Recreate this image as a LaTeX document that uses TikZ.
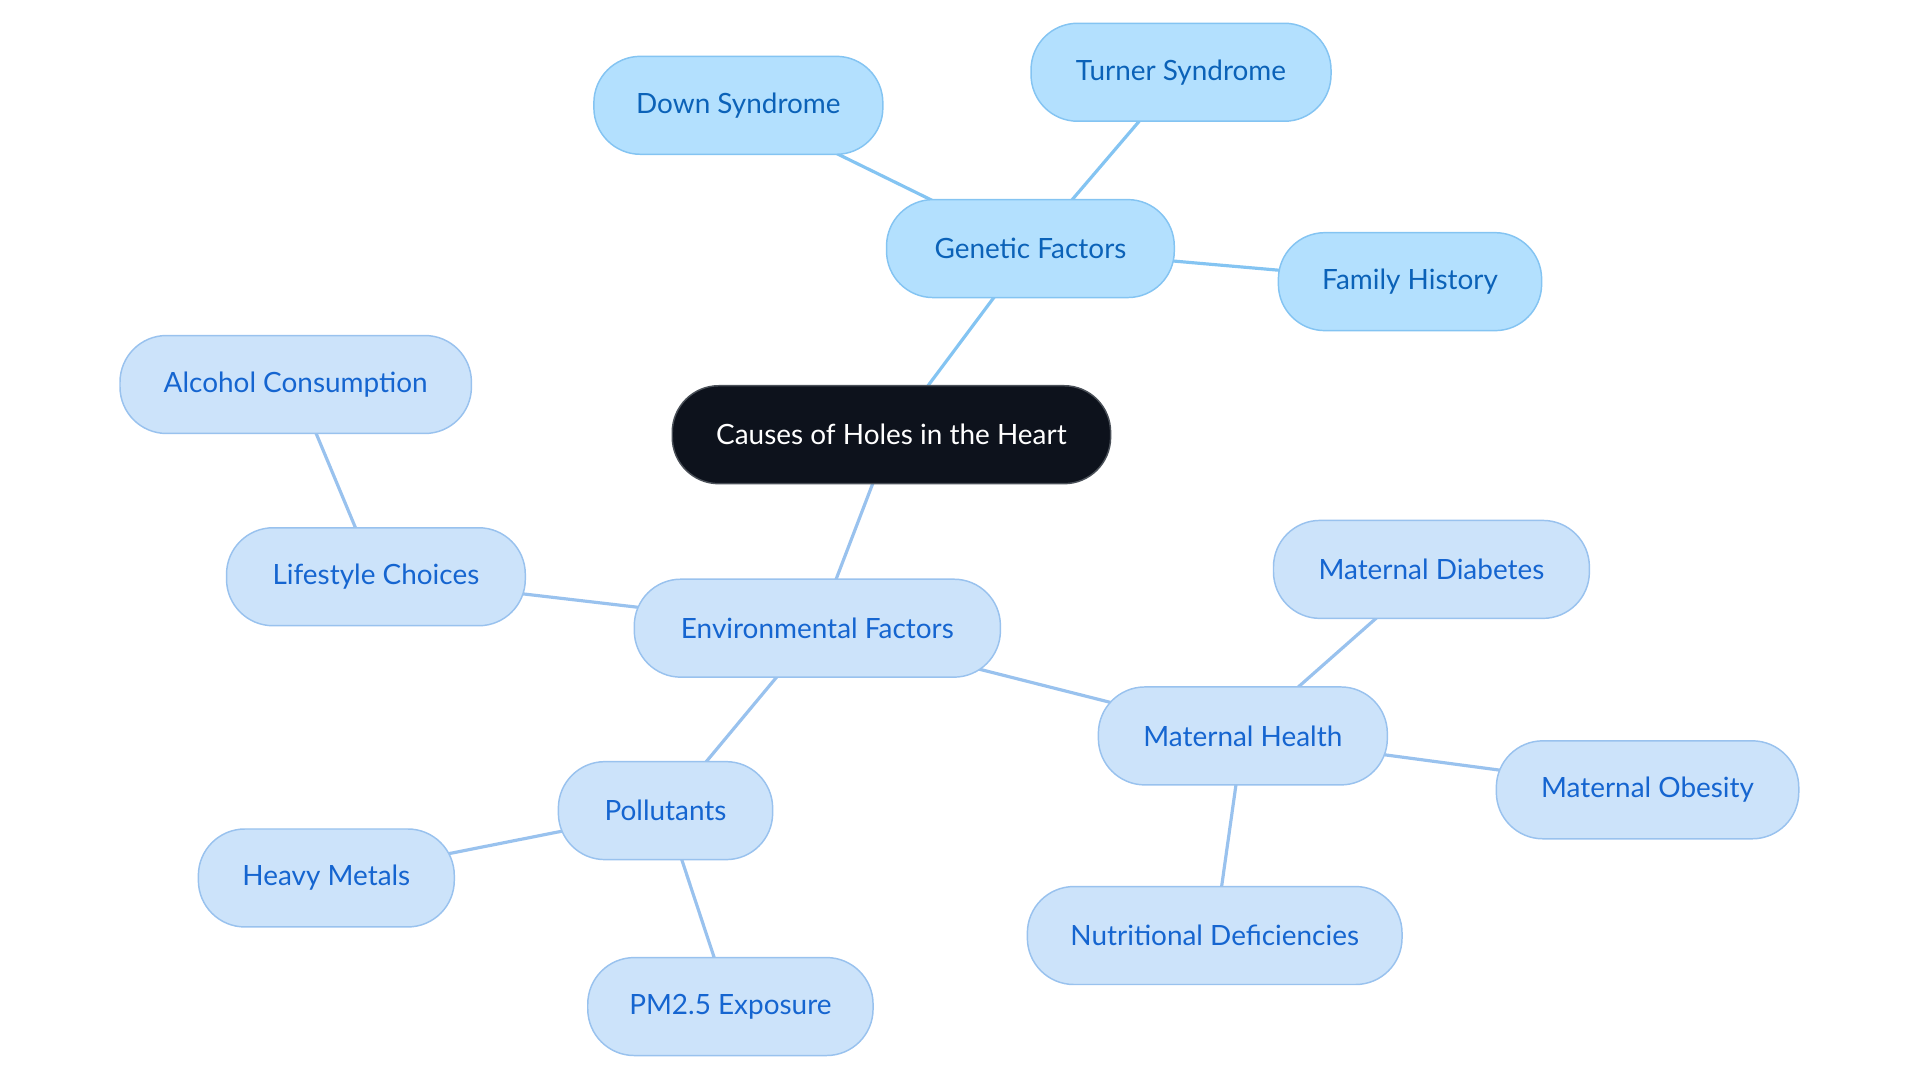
\documentclass[tikz,border=0pt]{standalone}
\usepackage{fontspec}
\setmainfont{Lato}
\usetikzlibrary{backgrounds}
\definecolor{genfill}{HTML}{B3E0FE}
\definecolor{genline}{HTML}{84C4F2}
\definecolor{gentext}{HTML}{0B62B8}
\definecolor{envfill}{HTML}{CCE3FA}
\definecolor{envline}{HTML}{99C2EE}
\definecolor{envtext}{HTML}{1565D0}
\definecolor{rootfill}{HTML}{0D121C}
\definecolor{rootline}{HTML}{4A5058}
\tikzset{
  base/.style={rounded corners=38pt, minimum height=80pt, inner sep=0pt, line width=1.2pt, font=\fontsize{22.8}{26}\selectfont},
  rootbox/.style={base, fill=rootfill, draw=rootline, text=white},
  genbox/.style={base, fill=genfill, draw=genline, text=gentext},
  envbox/.style={base, fill=envfill, draw=envline, text=envtext},
  genedge/.style={draw=genline, line width=2.6pt},
  envedge/.style={draw=envline, line width=2.6pt},
}
\begin{document}
\begin{tikzpicture}[x=1pt,y=-1pt]
\useasboundingbox (0,0) rectangle (1568,884.4);
\node[rootbox, minimum width=358pt] (root) at (728,355) {Causes of Holes in the Heart};
\node[genbox, minimum width=235pt] (gen) at (841.5,203) {Genetic Factors};
\node[genbox, minimum width=236pt] (down) at (603,86) {Down Syndrome};
\node[genbox, minimum width=245pt] (turner) at (964.5,59) {Turner Syndrome};
\node[genbox, minimum width=215pt] (family) at (1151.5,230) {Family History};
\node[envbox, minimum width=299pt] (env) at (667.5,513) {Environmental Factors};
\node[envbox, minimum width=244pt] (life) at (307,471) {Lifestyle Choices};
\node[envbox, minimum width=287pt] (alc) at (241.5,314) {Alcohol Consumption};
\node[envbox, minimum width=175pt] (poll) at (543.5,662) {Pollutants};
\node[envbox, minimum width=209pt] (heavy) at (266.5,717) {Heavy Metals};
\node[envbox, minimum width=233pt] (pm) at (596.5,822) {PM2.5 Exposure};
\node[envbox, minimum width=236pt] (mh) at (1015,601) {Maternal Health};
\node[envbox, minimum width=258pt] (md) at (1169,465) {Maternal Diabetes};
\node[envbox, minimum width=247pt] (mo) at (1345.5,645) {Maternal Obesity};
\node[envbox, minimum width=306pt] (nd) at (992,764) {Nutritional Deficiencies};
\begin{scope}[on background layer]
\draw[genedge] (root.center) -- (gen.center);
\draw[genedge] (gen.center) -- (down.center);
\draw[genedge] (gen.center) -- (turner.center);
\draw[genedge] (gen.center) -- (family.center);
\draw[envedge] (root.center) -- (env.center);
\draw[envedge] (env.center) -- (life.center);
\draw[envedge] (life.center) -- (alc.center);
\draw[envedge] (env.center) -- (poll.center);
\draw[envedge] (poll.center) -- (heavy.center);
\draw[envedge] (poll.center) -- (pm.center);
\draw[envedge] (env.center) -- (mh.center);
\draw[envedge] (mh.center) -- (md.center);
\draw[envedge] (mh.center) -- (mo.center);
\draw[envedge] (mh.center) -- (nd.center);
\end{scope}
\end{tikzpicture}
\end{document}
